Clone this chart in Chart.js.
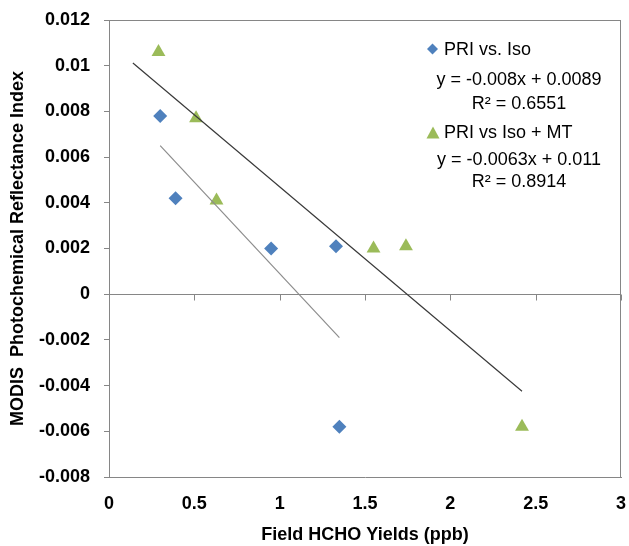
<!DOCTYPE html>
<html>
<head>
<meta charset="utf-8">
<script src="https://cdn.jsdelivr.net/npm/chart.js@4"></script>
<style>
html,body{margin:0;padding:0;background:#fff;}
#wrap{width:629px;height:546px;position:relative;}
</style>
</head>
<body>
<div id="wrap"><canvas id="c" width="629" height="546"></canvas></div>
<script>
// ---- data ----
const isoX = [0.30, 0.39, 0.95, 1.33, 1.35];
const isoY = [0.0078, 0.0042, 0.0020, 0.0021, -0.0058];
const mtX = [0.29, 0.51, 0.63, 1.55, 1.74, 2.42];
const mtY = [0.0106, 0.0077, 0.0041, 0.0020, 0.0021, -0.0058];
const seriesNames = ["PRI vs. Iso", "PRI vs Iso + MT"];
const trendSlope = [-0.008, -0.0063];
const trendIntercept = [0.0089, 0.011];
const trendStart = [0.30, 0.14];
const trendEnd = [1.35, 2.42];
const equationLabels = ["y = -0.008x + 0.0089", "y = -0.0063x + 0.011"];
const r2Labels = ["R\u00B2 = 0.6551", "R\u00B2 = 0.8914"];
const xTitle = "Field HCHO Yields (ppb)";
const yTitle = "MODIS  Photochemical Reflectance Index";

const BLUE = '#4F81BD', GREEN = '#9BBB59', AXIS = '#868686';

function pts(xs, ys){ return xs.map((x,i)=>({x:x, y:ys[i]})); }
function trend(i){
  return [trendStart[i], trendEnd[i]].map(x => ({x:x, y: trendSlope[i]*x + trendIntercept[i]}));
}

Chart.defaults.font.family = "'Liberation Sans', Arial, sans-serif";
Chart.defaults.color = '#000';

const framePlugin = {
  id: 'frame',
  beforeDatasetsDraw(chart){
    const {ctx, chartArea:a, scales:{x, y}} = chart;
    ctx.save();
    ctx.strokeStyle = AXIS;
    ctx.lineWidth = 1;
    ctx.beginPath();
    ctx.moveTo(a.left, Math.round(a.top)+0.5);
    ctx.lineTo(a.right, Math.round(a.top)+0.5);
    ctx.moveTo(Math.round(a.right)-0.5, a.top);
    ctx.lineTo(Math.round(a.right)-0.5, a.bottom);
    ctx.stroke();
    const y0 = Math.round(y.getPixelForValue(0)) + 0.5;
    ctx.beginPath();
    ctx.moveTo(a.left, y0);
    ctx.lineTo(a.right, y0);
    x.ticks.forEach(t => {
      if (t.value === 0) return;
      const px = Math.round(x.getPixelForValue(t.value)) + 0.5;
      ctx.moveTo(px, y0);
      ctx.lineTo(px, y0 + 6);
    });
    ctx.stroke();
    ctx.restore();
  },
  afterDraw(chart){
    const ctx = chart.ctx;
    ctx.save();
    ctx.font = "18px 'Liberation Sans', Arial, sans-serif";
    ctx.textBaseline = 'middle';
    const marker = (style, color, cx, cy, r) => {
      ctx.fillStyle = color;
      ctx.beginPath();
      if (style === 'diamond') {
        ctx.moveTo(cx, cy - r); ctx.lineTo(cx + r, cy); ctx.lineTo(cx, cy + r); ctx.lineTo(cx - r, cy);
      } else {
        ctx.moveTo(cx, cy - r); ctx.lineTo(cx + r, cy + r*0.85); ctx.lineTo(cx - r, cy + r*0.85);
      }
      ctx.closePath();
      ctx.fill();
    };
    marker('diamond', BLUE, 432.5, 49, 5.5);
    marker('triangle', GREEN, 433, 133, 6.5);
    ctx.fillStyle = '#000';
    ctx.textAlign = 'left';
    ctx.fillText(seriesNames[0], 444, 50);
    ctx.fillText(seriesNames[1], 444, 133);
    ctx.textAlign = 'center';
    ctx.fillText(equationLabels[0], 519, 80);
    ctx.fillText(r2Labels[0], 519, 104);
    ctx.fillText(equationLabels[1], 519, 160);
    ctx.fillText(r2Labels[1], 519, 182);
    ctx.restore();
  }
};

new Chart(document.getElementById('c'), {
  type: 'scatter',
  data: {
    datasets: [
      { label: 'trend1', data: trend(1), showLine: true, borderColor: '#3a3a3a', borderWidth: 1.2, pointRadius: 0, fill: false },
      { label: 'trend0', data: trend(0), showLine: true, borderColor: '#8c8c8c', borderWidth: 1.2, pointRadius: 0, fill: false },
      { label: seriesNames[0], data: pts(isoX, isoY), pointStyle: 'rectRot', pointRadius: 7, pointHoverRadius: 7,
        backgroundColor: BLUE, borderColor: BLUE, borderWidth: 0 },
      { label: seriesNames[1], data: pts(mtX, mtY), pointStyle: 'triangle', pointRadius: 8, pointHoverRadius: 8,
        backgroundColor: GREEN, borderColor: GREEN, borderWidth: 0 }
    ]
  },
  options: {
    responsive: false,
    animation: false,
    layout: { padding: { top: 20, right: 6, left: 0, bottom: 0 } },
    plugins: { legend: { display: false }, tooltip: { enabled: false } },
    scales: {
      x: {
        type: 'linear', position: 'bottom', min: 0, max: 3,
        ticks: { stepSize: 0.5, padding: 16, font: { size: 18, weight: 'bold' }, color: '#000', maxRotation: 0,
          callback: v => String(parseFloat(v.toFixed(2))) },
        grid: { display: false, drawTicks: false },
        border: { display: true, color: AXIS, width: 1 },
        title: { display: true, text: xTitle, font: { size: 18, weight: 'bold' }, color: '#000', padding: 0 },
        afterFit(s){ s.height = 69; s.paddingLeft = 0; s.paddingRight = 0; }
      },
      y: {
        type: 'linear', min: -0.008, max: 0.012,
        ticks: { stepSize: 0.002, padding: 14, font: { size: 18, weight: 'bold' }, color: '#000',
          callback: v => String(parseFloat(v.toFixed(3))) },
        grid: { display: true, drawOnChartArea: false, drawTicks: true, tickLength: 5, color: AXIS },
        border: { display: true, color: AXIS, width: 1 },
        title: { display: true, text: yTitle, font: { size: 18, weight: 'bold' }, color: '#000', padding: { top: 7, bottom: 0 } },
        afterFit(s){ s.width = 109; s.paddingTop = 0; s.paddingBottom = 0; }
      }
    }
  },
  plugins: [framePlugin]
});
</script>
</body>
</html>
